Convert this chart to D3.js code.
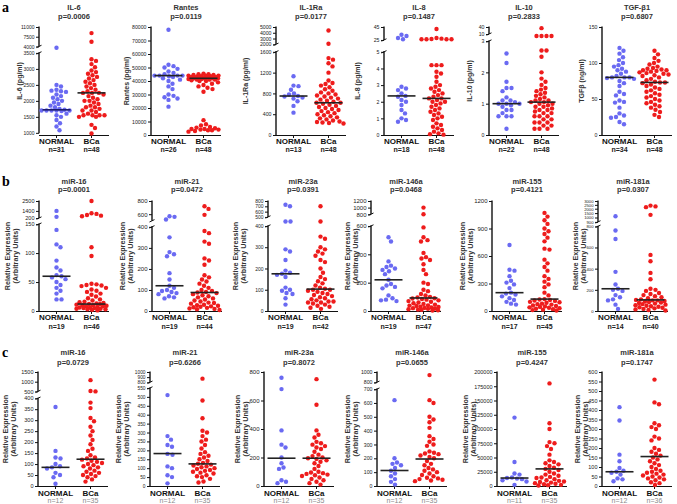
<!DOCTYPE html>
<html>
<head>
<meta charset="utf-8">
<script src="https://cdn.jsdelivr.net/npm/d3@7"></script>
<style>
body{margin:0;background:#fff;}
svg{display:block;font-family:"Liberation Sans",Arial,sans-serif;}
</style>
</head>
<body>
<div id="chart"></div>
<script>
// ---------- data ----------
const groups = ["NORMAL", "BCa"];
const titles = ["IL-6","Rantes","IL-1Ra","IL-8","IL-10","TGF-β1",
    "miR-16","miR-21","miR-23a","miR-146a","miR-155","miR-181a",
    "miR-16","miR-21","miR-23a","miR-146a","miR-155","miR-181a"];
const pValues = ["p=0.0006","p=0.0119","p=0.0177","p=0.1487","p=0.2833","p=0.6807",
    "p=0.0001","p=0.0472","p=0.0391","p=0.0468","p=0.4121","p=0.0307",
    "p=0.0729","p=0.6266","p=0.8072","p=0.0655","p=0.4247","p=0.1747"];
const yLabels = ["IL-6 (pg/ml)","Rantes (pg/ml)","IL-1Ra (pg/ml)","IL-8 (pg/ml)","IL-10 (pg/ml)","TGFβ (ng/ml)"];
const normalN = [31,26,13,18,22,34, 19,19,19,19,17,14, 12,12,12,12,11,12];
const bcaN    = [48,48,48,48,48,48, 46,44,42,47,45,40, 35,35,35,35,35,36];
const normalMedians = [1720,44000,750,2.35,1.0,80, 60,120,175,220,200,210, 85,182,195,112,14000,75];
const bcaMedians    = [2250,42000,620,2.2,1.05,73, 12,88,103,92,130,105, 122,124,195,195,30000,155];

const yTicks = [
    [1000,1500,2000,2500,3000,3500,4000,7500,11000],
    [0,10000,20000,30000,40000,50000,60000,70000,80000],
    [0,400,800,1200,1600,2000,3000,4000,5000],
    [0,1,2,3,4,5,25,45],
    [0,1,2,3,10,40],
    [0,50,100,150],
    [0,50,100,150,200,1400,2500],
    [0,100,200,300,400,600,800],
    [0,100,200,300,400,500,600,700,800],
    [0,200,400,600,800,1000,1200],
    [0,300,600,900,1200],
    [0,200,400,600,800,900,1000,1500,2000,2500,3000],
    [0,50,100,150,200,250,300,350,400,500,1000,1500],
    [0,50,100,150,200,250,300,350,400,450,500,550,800,900,1000],
    [0,200,400,600,800],
    [0,100,200,300,400,500,600,700,800,1000],
    [0,25000,50000,75000,100000,125000,150000,175000,200000],
    [0,50,100,150,200,250,300,350,400,450,500,550,600]
];

const normalValues = [
    [3900,2500,2450,2350,2320,2300,2280,2200,2150,2100,2050,2000,1950,1900,1850,1800,1750,1720,1700,1700,1700,1700,1700,1680,1600,1550,1500,1400,1300,1200,1080],
    [78000,52000,51000,50000,49000,47000,46000,45000,44000,44000,44000,44000,43500,43000,42000,41000,40000,38000,36000,34000,30000,29000,28000,27000,26000,21000],
    [1130,950,940,870,800,780,750,740,720,700,650,560,430],
    [33,31,28,26,2.9,2.8,2.7,2.5,2.35,2.3,2.1,2.0,1.8,1.5,1.3,1.0,0.9,0.8],
    [2.6,2.3,1.7,1.5,1.5,1.4,1.2,1.1,1.1,1.05,1.0,1.0,1.0,0.95,0.9,0.8,0.8,0.7,0.6,0.6,0.6,0.2],
    [121,117,113,108,104,100,97,95,92,90,88,85,82,80,80,80,79,78,75,72,68,60,57,55,48,46,45,38,30,27,25,24,18,15],
    [1400,400,140,115,110,87,75,70,62,60,58,55,50,45,40,35,30,20,20],
    [570,560,520,350,280,270,260,180,150,120,110,100,95,90,85,80,70,65,60],
    [730,700,450,450,290,280,240,190,180,175,170,160,110,100,95,85,80,60,30],
    [520,490,350,320,310,300,290,280,260,220,190,180,170,160,110,90,80,75,70],
    [720,450,440,380,330,310,290,250,200,190,180,160,140,120,100,80,70],
    [1150,760,680,370,250,210,200,190,150,130,110,100,60,20],
    [360,160,130,125,100,90,85,80,60,50,40,10],
    [510,280,260,230,220,180,175,110,100,60,50,15],
    [760,680,390,290,270,200,160,130,120,40,30,20],
    [620,200,170,160,150,130,110,90,70,50,30,10],
    [120000,42000,22000,20000,15000,14000,13000,12000,10000,8000,2000],
    [415,345,165,130,95,80,75,70,60,40,35,25]
];

const bcaValues = [
    [8800,5700,3300,3250,3150,3050,2950,2900,2850,2800,2750,2700,2650,2600,2550,2500,2450,2400,2350,2300,2250,2250,2250,2200,2150,2100,2050,2000,2000,1950,1900,1850,1800,1800,1750,1700,1700,1650,1600,1550,1550,1550,1550,1500,1500,1250,1150,980],
    [45500,45000,45000,44500,44500,44000,44000,44000,43500,43500,43000,43000,43000,42500,42500,42000,42000,42000,42000,41500,41500,41000,41000,41000,40500,40000,40000,39000,38000,37000,36000,35000,34000,32000,11000,8000,7000,6000,5500,5000,4500,4500,4000,4000,3500,3500,3000,2500],
    [4400,2100,1480,1450,1380,1320,1200,1050,1000,980,950,920,880,850,820,800,780,760,740,720,700,680,660,640,620,620,600,580,560,540,520,500,480,460,440,420,400,380,360,340,320,300,280,260,250,240,230,220],
    [42,28,27,26.5,26,26,26,26,4.2,4.2,4.2,3.8,3.7,3.5,3.2,3.0,2.9,2.8,2.7,2.6,2.5,2.4,2.3,2.2,2.2,2.1,2.0,2.0,1.9,1.8,1.7,1.6,1.5,1.4,1.3,1.2,1.1,1.0,0.9,0.7,0.6,0.5,0.4,0.3,0.2,0.1,0.05,0.02],
    [35,8,8,8,8,2.7,2.7,2.5,2.0,1.8,1.7,1.6,1.5,1.45,1.4,1.35,1.3,1.25,1.2,1.15,1.1,1.1,1.05,1.05,1.0,1.0,0.95,0.9,0.9,0.85,0.8,0.8,0.75,0.7,0.7,0.6,0.6,0.6,0.5,0.5,0.4,0.4,0.4,0.3,0.3,0.2,0.2,0.2],
    [117,112,107,103,100,98,95,93,92,91,90,90,89,88,87,86,85,84,83,82,80,78,76,74,73,73,72,70,68,66,64,62,60,58,56,54,52,50,48,46,44,42,40,38,35,32,28,25],
    [2500,1000,900,700,600,500,110,95,47,46,45,44,43,40,37,35,33,30,28,25,22,20,18,16,15,14,13,12,12,11,10,10,9,8,8,7,6,6,5,5,4,4,3,3,2,1],
    [720,680,590,380,370,330,320,250,240,220,170,160,150,140,130,120,110,100,95,90,88,85,80,75,70,65,60,55,50,45,40,38,35,30,28,25,22,20,18,15,12,10,8,5],
    [700,450,350,340,300,290,280,270,260,240,230,200,180,160,150,140,130,120,110,105,100,100,95,90,85,80,75,70,65,60,55,50,45,45,40,40,35,30,25,20,15,10],
    [1000,800,590,520,500,490,410,380,370,360,330,290,260,200,190,150,140,120,110,100,95,90,88,85,80,75,70,65,60,55,50,45,40,38,35,30,28,25,22,20,18,15,12,10,8,5,3],
    [1070,1030,990,950,900,870,840,800,760,680,670,560,520,480,440,380,350,320,290,260,200,170,130,125,120,115,110,100,95,90,80,75,70,60,55,50,45,40,35,30,25,20,15,10,5],
    [2400,2300,2200,1300,530,470,360,300,210,200,190,170,160,150,140,130,120,110,105,100,100,95,90,85,80,75,70,65,60,55,50,45,40,35,30,25,20,15,10,5],
    [1080,520,500,380,355,310,295,270,250,230,210,190,170,160,140,130,125,120,115,110,105,100,95,90,85,80,70,65,60,55,50,45,40,30,20],
    [870,480,380,310,300,280,260,250,230,210,190,180,170,160,150,140,130,125,120,115,110,105,100,95,90,85,80,75,70,60,55,50,40,25,20],
    [750,570,390,360,340,310,300,290,280,270,260,240,220,210,200,195,190,180,170,160,140,120,100,95,90,85,80,75,70,60,50,40,30,20,10],
    [940,620,600,500,480,460,420,360,340,320,300,290,250,240,235,230,220,210,200,180,160,150,130,120,110,100,90,80,70,60,55,50,45,40,35],
    [180000,110000,100000,77000,75000,70000,65000,55000,45000,42000,40000,38000,35000,32000,30000,28000,25000,22000,20000,18000,16000,15000,14000,12000,10000,9000,8000,7000,6000,5000,4000,3000,2000,1500,1000],
    [560,440,430,330,320,310,300,260,250,240,200,190,180,170,160,150,140,130,120,110,100,90,80,75,70,65,60,55,50,45,40,35,30,20,15,5]
];

// ---------- layout ----------
const W = 677, H = 504;
const plotW = 70;
const dotR = 2.2;
const swarmCap = 15;
const rows = [
    {top:27, bottom:135, titleY:9.5, pY:18.5, xLabY:144, nY:151.5, letter:"a", letterY:12, nColor:"#222", nWeight:"bold", tick:5.2},
    {top:201, bottom:311, titleY:183.5, pY:192, xLabY:320, nY:328.5, letter:"b", letterY:186, nColor:"#222", nWeight:"bold", tick:6},
    {top:372, bottom:486, titleY:355, pY:364.5, xLabY:495.5, nY:502.5, letter:"c", letterY:357, nColor:"#8a8a8a", nWeight:"normal", tick:5.5}
];
const axisX = [39,151,276,384,489,602, 39,152,268,371,492,598, 38,150,264,377,497,602];
const yLabOff = [-19,-24,-30,-26,-19,-20, -32,-30,-33,-24,-30,-23, -33,-32,-27,-30,-32,-25];
// [value, fraction of plot height]; brk = index of last stop below the axis break
const stops = [
    {s:[[1000,0.02],[3500,0.76],[4000,0.82],[11000,1]], brk:1},
    {s:[[0,0],[80000,1]], brk:-1},
    {s:[[0,0],[1600,0.77],[2000,0.84],[5000,1]], brk:1},
    {s:[[0,0],[5,0.77],[25,0.88],[45,1]], brk:1},
    {s:[[0,0],[3,0.87],[10,0.935],[40,1]], brk:1},
    {s:[[0,0],[150,1]], brk:-1},
    {s:[[0,0],[150,0.79],[200,0.845],[1400,0.91],[2500,1]], brk:1},
    {s:[[0,0],[400,0.765],[500,0.82],[800,1]], brk:1},
    {s:[[0,0],[400,0.773],[500,0.855],[800,1]], brk:1},
    {s:[[0,0],[600,0.773],[800,0.88],[1200,1]], brk:1},
    {s:[[0,0],[1200,1]], brk:-1},
    {s:[[0,0],[800,0.77],[900,0.81],[1000,0.85],[1500,0.89],[2000,0.93],[2500,0.965],[3000,1]], brk:1},
    {s:[[0,0],[400,0.77],[500,0.83],[1500,1]], brk:1},
    {s:[[0,0],[550,0.86],[800,0.91],[1000,1]], brk:1},
    {s:[[0,0],[800,1]], brk:-1},
    {s:[[0,0],[700,0.85],[800,0.91],[1000,1]], brk:1},
    {s:[[0,0],[200000,1]], brk:-1},
    {s:[[0,0],[600,1]], brk:-1}
];
const tickFont = [5,5.2,5.2,5.2,5.2,5.2, 5.5,6,5,6,6,4.2, 5.5,4.8,6,5.2,5.5,5.5];
const dotColor = {NORMAL:"#6a6af2", BCa:"#ee1c1c"};

// deterministic dodge so dots sit side by side like a dot plot, kept inside +/- swarmCap
function swarm(vals, y){
    const pts = vals.map(v=>({v:v, py:y(v)})).sort((a,b)=>a.py-b.py);
    const placed = [];
    const d = 2*dotR + 0.3;
    const cands = [0];
    for (let k=1; k*0.5<=swarmCap; k++){ cands.push(k*0.5, -k*0.5); }
    pts.forEach(p=>{
        let off = null, bestC = 0, bestD = -1;
        for (const c of cands){
            let minD = Infinity;
            placed.forEach(q=>{
                const dd = Math.hypot(q.dx-c, q.py-p.py);
                if (dd < minD) minD = dd;
            });
            if (minD >= d){ off = c; break; }
            if (minD > bestD + 0.05){ bestD = minD; bestC = c; }
        }
        p.dx = off === null ? bestC : off;
        placed.push(p);
    });
    return pts;
}

const svg = d3.select("#chart").append("svg")
    .attr("width", W).attr("height", H);

rows.forEach(r=>{
    svg.append("text")
        .attr("x", 2).attr("y", r.letterY)
        .style("font-family", "'Liberation Serif','DejaVu Serif',serif")
        .style("font-weight", "bold").style("font-size", "14px")
        .text(r.letter);
});

titles.forEach((title, i)=>{
    const row = rows[Math.floor(i/6)];
    const st = stops[i];
    const g = svg.append("g").attr("transform", "translate(" + axisX[i] + ",0)");
    const h = row.bottom - row.top;

    const y = d3.scaleLinear()
        .domain(st.s.map(s=>s[0]))
        .range(st.s.map(s=>row.bottom - s[1]*h));
    const x = d3.scaleBand().domain(groups).range([0, plotW]);

    // y axis
    const yAxisG = g.append("g").attr("class", "yAxisG")
        .call(d3.axisLeft(y).tickValues(yTicks[i]).tickSize(3).tickFormat(d3.format("d")));
    yAxisG.select(".domain").remove();
    yAxisG.selectAll(".tick line").attr("stroke", "#111").attr("stroke-width", 1);
    yAxisG.selectAll(".tick text")
        .attr("x", -4.5)
        .style("font-size", tickFont[i] + "px").style("font-family", "'Liberation Sans',Arial,sans-serif")
        .attr("fill", "#222");

    const vals = st.s.map(s=>s[0]);
    const segs = st.brk < 0 ? [[vals[0], vals[vals.length-1]]]
        : [[vals[0], vals[st.brk]], [vals[st.brk+1], vals[vals.length-1]]];
    segs.forEach(sg=>{
        g.append("line")
            .attr("x1", 0).attr("x2", 0)
            .attr("y1", y(sg[0]) + (sg[0]===vals[0] ? 0.5 : 0)).attr("y2", y(sg[1]) - 0.5)
            .attr("stroke", "#111").attr("stroke-width", 1.4);
    });
    if (st.brk >= 0){
        [y(vals[st.brk]), y(vals[st.brk+1])].forEach(yy=>{
            g.append("line")
                .attr("x1", -2.5).attr("x2", 2.5)
                .attr("y1", yy + 1.2).attr("y2", yy - 1.2)
                .attr("stroke", "#111").attr("stroke-width", 1);
        });
    }

    // x axis
    g.append("line")
        .attr("x1", 0).attr("x2", plotW)
        .attr("y1", row.bottom + 0.5).attr("y2", row.bottom + 0.5)
        .attr("stroke", "#111").attr("stroke-width", 1.2);
    groups.forEach(gr=>{
        g.append("line")
            .attr("x1", x(gr) + x.bandwidth()/2).attr("x2", x(gr) + x.bandwidth()/2)
            .attr("y1", row.bottom + 0.5).attr("y2", row.bottom + 3)
            .attr("stroke", "#111").attr("stroke-width", 1);
    });

    // dots, medians and group labels
    const sets = [["NORMAL", normalValues[i], normalMedians[i], normalN[i]],
                  ["BCa", bcaValues[i], bcaMedians[i], bcaN[i]]];
    sets.forEach(([gr, v, med, n])=>{
        const cx = x(gr) + x.bandwidth()/2;
        g.selectAll(".dot" + gr)
            .data(swarm(v, y))
            .join("circle")
            .attr("class", "dot" + gr)
            .attr("cx", d=>cx + d.dx)
            .attr("cy", d=>d.py)
            .attr("r", dotR)
            .attr("fill", dotColor[gr]);
        g.append("line")
            .attr("x1", cx - 14).attr("x2", cx + 14)
            .attr("y1", y(med)).attr("y2", y(med))
            .attr("stroke", (i===0 && gr==="NORMAL") ? "#1c1c6e" : "#222")
            .attr("stroke-width", 1.6);
        g.append("text")
            .attr("x", cx).attr("y", row.xLabY)
            .attr("text-anchor", "middle")
            .style("font-size", "8px").style("font-weight", "bold")
            .attr("fill", "#111")
            .text(gr);
        g.append("text")
            .attr("x", cx).attr("y", row.nY)
            .attr("text-anchor", "middle")
            .style("font-size", "7px").style("font-weight", row.nWeight)
            .attr("fill", row.nColor)
            .text("n=" + n);
    });

    // titles
    g.append("text")
        .attr("x", plotW/2).attr("y", row.titleY)
        .attr("text-anchor", "middle")
        .style("font-size", "7.5px").style("font-weight", "bold").attr("fill", "#333")
        .text(title);
    g.append("text")
        .attr("x", plotW/2).attr("y", row.pY)
        .attr("text-anchor", "middle")
        .style("font-size", "7.5px").style("font-weight", "bold").attr("fill", "#333")
        .text(pValues[i]);

    // y label
    const midY = (row.top + row.bottom)/2;
    const labLines = i < 6 ? [yLabels[i]] : ["Relative Expression", "(Arbitrary Units)"];
    labLines.forEach((t, k)=>{
        const lx = yLabOff[i] + k*8.5;
        g.append("text")
            .attr("transform", "translate(" + lx + "," + midY + ") rotate(-90)")
            .attr("text-anchor", "middle")
            .attr("dy", "0.35em")
            .style("font-size", i < 6 ? "7px" : "7.2px")
            .style("font-weight", "bold").attr("fill", "#333")
            .text(t);
    });
});
</script>
</body>
</html>
